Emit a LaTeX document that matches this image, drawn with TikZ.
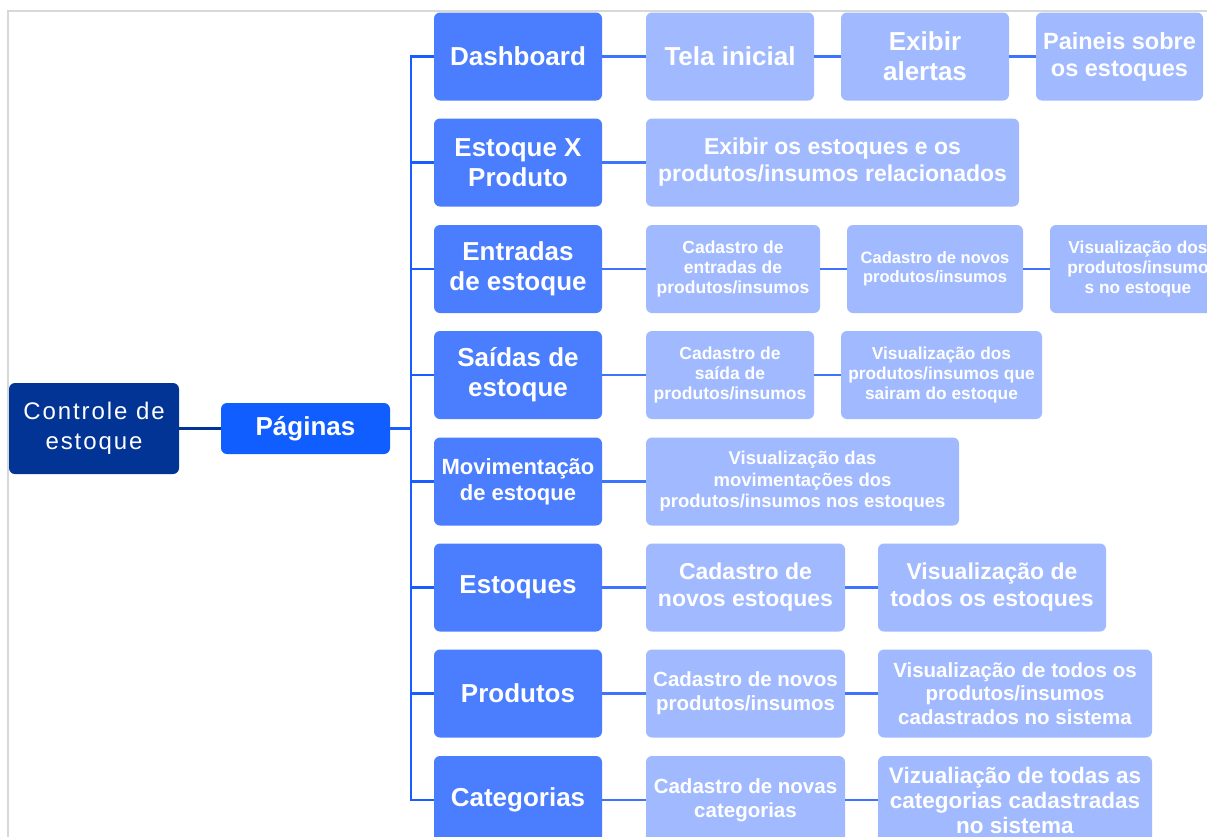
\documentclass[tikz,border=0pt]{standalone}
\usepackage{fontspec}
\setmainfont{Liberation Sans}
\newfontfamily\rootfont[LetterSpace=8]{Liberation Sans}
\newcommand\fsz[2]{\fontsize{#1}{#2}\selectfont}
\definecolor{cnavy}{RGB}{2,52,150}
\definecolor{cpag}{RGB}{16,94,255}
\definecolor{clvtwo}{RGB}{74,126,255}
\definecolor{clvthree}{RGB}{161,186,255}
\definecolor{cbus}{RGB}{26,92,255}
\definecolor{cline}{RGB}{62,115,255}
\definecolor{cframe}{RGB}{216,216,216}
\tikzset{
  boxbase/.style={rounded corners=6pt, text=white, align=center, inner sep=0pt, draw=none},
  rootbox/.style={boxbase, fill=cnavy, minimum width=170pt, minimum height=91pt, font=\rootfont\fsz{24}{30}},
  pagbox/.style={boxbase, fill=cpag, minimum width=169pt, minimum height=51pt, font=\bfseries\fsz{26}{30}},
  lvtwo/.style={boxbase, fill=clvtwo, minimum width=168pt, minimum height=88pt, font=\bfseries\fsz{26}{30}},
  lvthree/.style={boxbase, fill=clvthree, minimum height=88pt, font=\bfseries\fsz{23}{27}},
  busline/.style={draw=cbus, line width=2.5pt},
  conn/.style={draw=cline, line width=2.5pt},
  rootline/.style={draw=cnavy, line width=2.5pt},
}
\begin{document}
\begin{tikzpicture}[x=1pt,y=-1pt]
\useasboundingbox (0,0) rectangle (1207,836);
\clip (0,0) rectangle (1207,836);
\fill[white] (0,0) rectangle (1207,836);
\draw[cframe, line width=2pt] (8,11) rectangle (1230,860);

% root and pages
\node[rootbox] (root) at (94,428.5) {\raisebox{-2pt}{Controle de}\\\raisebox{-2pt}{estoque}};
\node[pagbox] (pag) at (305.5,428.5) {\raisebox{-5pt}{Páginas}};

% level 2
\node[lvtwo] (dash) at (518,56.5) {Dashboard};
\node[lvtwo] (exp) at (518,162.5) {Estoque X\\Produto};
\node[lvtwo] (ent) at (518,269) {Entradas\\de estoque};
\node[lvtwo] (sai) at (518,375) {Saídas de\\estoque};
\node[lvtwo, font=\bfseries\fsz{22}{26}] (mov) at (518,481.5) {Movimentação\\de estoque};
\node[lvtwo] (est) at (518,587.5) {Estoques};
\node[lvtwo] (prod) at (518,693.5) {Produtos};
\node[lvtwo] (cat) at (518,800) {Categorias};

% level 3
\node[lvthree, minimum width=168pt, font=\bfseries\fsz{26}{30}] (dashA) at (730,56.5) {Tela inicial};
\node[lvthree, minimum width=168pt, font=\bfseries\fsz{26}{30}] (dashB) at (925,56.5) {Exibir\\alertas};
\node[lvthree, minimum width=167pt, font=\bfseries\fsz{23.5}{27}] (dashC) at (1119.5,56.5) {Paineis sobre\\os estoques};

\node[lvthree, minimum width=373pt, font=\bfseries\fsz{23}{27}] (expA) at (832.5,162.5) {Exibir os estoques e os\\produtos/insumos relacionados};

\node[lvthree, minimum width=174pt, font=\bfseries\fsz{17.5}{20}] (entA) at (733,269) {Cadastro de\\entradas de\\produtos/insumos};
\node[lvthree, minimum width=176pt, font=\bfseries\fsz{16.5}{19}] (entB) at (935,269) {Cadastro de novos\\produtos/insumos};
\node[lvthree, minimum width=176pt, font=\bfseries\fsz{17.3}{20}] (entC) at (1138,269) {Visualização dos\\produtos/insumo\\s no estoque};

\node[lvthree, minimum width=168pt, font=\bfseries\fsz{17.5}{20}] (saiA) at (730,375) {Cadastro de\\saída de\\produtos/insumos};
\node[lvthree, minimum width=201pt, font=\bfseries\fsz{17.3}{20}] (saiB) at (941.5,375) {Visualização dos\\produtos/insumos que\\sairam do estoque};

\node[lvthree, minimum width=313pt, font=\bfseries\fsz{18.5}{21.5}] (movA) at (802.5,481.5) {Visualização das\\movimentações dos\\produtos/insumos nos estoques};

\node[lvthree, minimum width=199pt, font=\bfseries\fsz{23}{27}] (estA) at (745.5,587.5) {Cadastro de\\novos estoques};
\node[lvthree, minimum width=228pt, font=\bfseries\fsz{23}{27}] (estB) at (992,587.5) {Visualização de\\todos os estoques};

\node[lvthree, minimum width=199pt, font=\bfseries\fsz{20.5}{24}] (prodA) at (745.5,693.5) {Cadastro de novos\\produtos/insumos};
\node[lvthree, minimum width=274pt, font=\bfseries\fsz{20.5}{23.7}] (prodB) at (1015,693.5) {Visualização de todos os\\produtos/insumos\\cadastrados no sistema};

\node[lvthree, minimum width=199pt, font=\bfseries\fsz{20.5}{24}] (catA) at (745.5,800) {Cadastro de novas\\categorias};
\node[lvthree, minimum width=274pt, font=\bfseries\fsz{22.5}{25}] (catB) at (1015,800) {Vizualiação de todas as\\categorias cadastradas\\no sistema};

% connectors
\draw[rootline] (root.east) -- (pag.west);
\foreach \n in {dash,exp,ent,sai,mov,est,prod,cat}{
  \draw[busline] (pag.east) -- ++(21,0) |- (\n.west);
}
\draw[conn] (dash.east) -- (dashA.west);
\draw[conn] (dashA.east) -- (dashB.west);
\draw[conn] (dashB.east) -- (dashC.west);
\draw[conn] (exp.east) -- (expA.west);
\draw[conn] (ent.east) -- (entA.west);
\draw[conn] (entA.east) -- (entB.west);
\draw[conn] (entB.east) -- (entC.west);
\draw[conn] (sai.east) -- (saiA.west);
\draw[conn] (saiA.east) -- (saiB.west);
\draw[conn] (mov.east) -- (movA.west);
\draw[conn] (est.east) -- (estA.west);
\draw[conn] (estA.east) -- (estB.west);
\draw[conn] (prod.east) -- (prodA.west);
\draw[conn] (prodA.east) -- (prodB.west);
\draw[conn] (cat.east) -- (catA.west);
\draw[conn] (catA.east) -- (catB.west);
\end{tikzpicture}
\end{document}
